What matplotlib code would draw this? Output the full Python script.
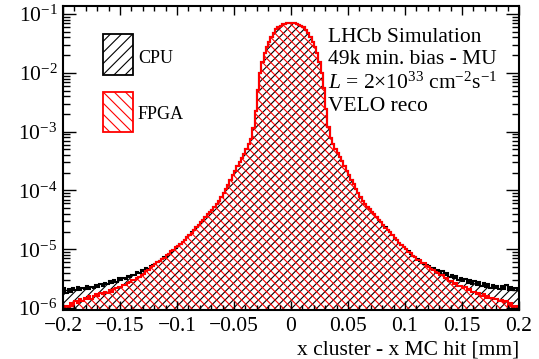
import numpy as np
import matplotlib
matplotlib.use("Agg")
import matplotlib.pyplot as plt
from matplotlib.patches import Rectangle
from matplotlib.ticker import MultipleLocator, LogLocator, NullFormatter

plt.rcParams['font.family'] = ['Liberation Serif', 'DejaVu Serif']
plt.rcParams['mathtext.fontset'] = 'custom'
plt.rcParams['mathtext.rm'] = 'Liberation Serif'
plt.rcParams['mathtext.it'] = 'Liberation Serif:italic'
plt.rcParams['mathtext.bf'] = 'Liberation Serif:bold'
plt.rcParams['hatch.linewidth'] = 0.8

# ---- data (values per bin, in units of 1e-6) ----
x_min, x_max, n_bins = -0.2, 0.2, 200

cpu_ppm = [
    2.2, 1.8, 2.1, 1.9, 2.2, 2.0, 2.3, 2.0, 2.2, 2.1,
    2.4, 2.1, 2.3, 2.2, 2.5, 2.3, 2.6, 2.4, 2.7, 2.6,
    2.9, 2.7, 3.0, 2.8, 3.2, 3.0, 3.3, 3.1, 3.5, 3.4,
    3.7, 3.6, 4.1, 3.9, 4.4, 4.3, 4.7, 4.6, 5.1, 5.3,
    5.7, 6.0, 6.4, 6.8, 7.3, 7.8, 8.4, 9.1, 9.8, 10.6,
    11.4, 12.3, 13.4, 14.5, 16.0, 17.4, 19.3, 21.3, 23.7, 26.2,
    28.7, 31.7, 35, 39, 43, 47, 52, 58, 66, 76,
    90, 105, 125, 150, 180, 215, 260, 310, 360, 420,
    500, 610, 760, 1150, 2200, 5200, 10000, 15500, 22000, 28000,
    34000, 41000, 48500, 55000, 60000, 63500, 66500, 68500, 69500, 70000,
    70000, 69300, 68000, 66000, 63000, 59500, 54500, 48000, 41000, 34000,
    27500, 21500, 15500, 10000, 5500, 2400, 1200, 780, 620, 510,
    430, 365, 312, 262, 218, 182, 152, 127, 107, 91,
    78, 67, 59, 53, 48, 43, 39, 35.5, 32, 29,
    26, 23.5, 21.5, 19.5, 17.5, 15.8, 14.3, 13.0, 11.8, 10.8,
    9.9, 9.2, 8.4, 7.8, 7.3, 6.7, 6.4, 5.9, 5.7, 5.3,
    5.1, 4.7, 4.8, 4.3, 4.5, 4.0, 4.2, 3.7, 3.9, 3.4,
    3.6, 3.2, 3.5, 3.0, 3.3, 2.9, 3.1, 2.7, 3.0, 2.6,
    2.9, 2.5, 2.8, 2.4, 2.7, 2.3, 2.6, 2.2, 2.5, 2.2,
    2.4, 2.1, 2.4, 2.1, 2.5, 2.0, 2.3, 2.0, 2.2, 2.1,
]

fpga_ppm = [
    0.7, 1.1, 0.85, 1.2, 1.1, 1.3, 1.2, 1.4, 1.3, 1.5,
    1.4, 1.6, 1.4, 1.6, 1.7, 1.6, 1.8, 1.7, 1.9, 1.8,
    2.0, 1.9, 2.1, 2.2, 2.3, 2.3, 2.5, 2.5, 2.7, 2.8,
    3.0, 3.0, 3.3, 3.4, 3.7, 3.8, 4.2, 4.4, 4.9, 5.2,
    5.6, 6.1, 6.3, 6.9, 7.2, 7.9, 8.3, 9.2, 9.7, 10.7,
    11.3, 12.4, 13.3, 14.6, 15.9, 17.5, 19.2, 21.4, 23.6, 26.3,
    28.6, 31.8, 35, 39, 43, 47, 52, 58, 66, 76,
    90, 105, 125, 150, 180, 215, 260, 310, 360, 420,
    500, 610, 760, 1150, 2200, 5200, 10000, 15500, 22000, 28000,
    34000, 41000, 48500, 55000, 60000, 63500, 66500, 68500, 69500, 70000,
    70000, 69300, 68000, 66000, 63000, 59500, 54500, 48000, 41000, 34000,
    27500, 21500, 15500, 10000, 5500, 2400, 1200, 780, 620, 510,
    430, 365, 312, 262, 218, 182, 152, 127, 107, 91,
    78, 67, 59, 53, 48, 43, 39, 35.5, 32, 29,
    26.1, 23.4, 21.6, 19.4, 17.6, 15.7, 14.4, 12.9, 11.9, 10.7,
    10.0, 9.1, 8.5, 7.7, 7.4, 6.6, 6.5, 5.8, 5.8, 5.2,
    5.0, 4.6, 4.5, 4.1, 4.0, 3.7, 3.6, 3.3, 3.2, 2.9,
    2.9, 2.6, 2.7, 2.4, 2.4, 2.2, 2.3, 2.0, 2.1, 1.9,
    1.9, 1.7, 1.8, 1.6, 1.7, 1.5, 1.6, 1.5, 1.5, 1.4,
    1.45, 1.3, 1.35, 1.25, 1.3, 1.1, 1.2, 1.0, 1.1, 0.9,
]

series_labels = ['CPU', 'FPGA']
series_colors = ['black', '#ff0000']
xtick_values = [-0.2, -0.15, -0.1, -0.05, 0.0, 0.05, 0.1, 0.15, 0.2]
xtick_labels = ['\u22120.2', '\u22120.15', '\u22120.1', '\u22120.05', '0',
                '0.05', '0.1', '0.15', '0.2']
ytick_values = [1e-6, 1e-5, 1e-4, 1e-3, 1e-2, 1e-1]
ytick_labels = ['$10^{-6}$', '$10^{-5}$', '$10^{-4}$', '$10^{-3}$',
                '$10^{-2}$', '$10^{-1}$']
info_lines = ['LHCb Simulation', '49k min. bias - MU',
              r'$L$ = 2$\times$10$^{33}$ cm$^{-2}$s$^{-1}$', 'VELO reco']
x_label = 'x cluster - x MC hit [mm]'

# ---- plot ----
W, H = 539, 359
AX_L, AX_R, AX_T, AX_B = 63, 519, 6, 310
aw, ah = AX_R - AX_L, AX_B - AX_T


def ax_x(px):
    return (px - AX_L) / aw


def ax_y(py):
    return (AX_B - py) / ah


edges = np.linspace(x_min, x_max, n_bins + 1)
cpu = np.array(cpu_ppm) * 1e-6
fpga = np.array(fpga_ppm) * 1e-6

fig = plt.figure(figsize=(W / 100, H / 100), dpi=100)
ax = fig.add_axes([AX_L / W, 1 - AX_B / H, aw / W, ah / H])
ax.set_yscale('log')

base = 1e-9
ax.stairs(cpu, edges, baseline=base, fill=True, facecolor='none',
          edgecolor=series_colors[0], hatch='////', linewidth=0)
ax.stairs(fpga, edges, baseline=base, fill=True, facecolor='none',
          edgecolor=series_colors[1], hatch='\\\\\\\\', linewidth=0)
ax.stairs(cpu, edges, baseline=None, color=series_colors[0], linewidth=1.5)
ax.stairs(fpga, edges, baseline=None, color=series_colors[1], linewidth=1.5)

ax.set_xlim(x_min, x_max)
ax.set_ylim(9.25e-7, 0.137)

ax.set_xticks(xtick_values)
ax.set_xticklabels(xtick_labels)
ax.xaxis.set_minor_locator(MultipleLocator(0.01))
ax.set_yticks(ytick_values)
ax.set_yticklabels(ytick_labels)
ax.yaxis.set_minor_locator(LogLocator(base=10, subs=np.arange(2, 10)))
ax.yaxis.set_minor_formatter(NullFormatter())

ax.tick_params(axis='both', which='both', direction='in', top=True, right=True,
               labelsize=15.5, width=1.0)
ax.tick_params(axis='x', which='major', length=6.5, pad=5)
ax.tick_params(axis='x', which='minor', length=3.5)
ax.tick_params(axis='y', which='major', length=9.5, pad=4)
ax.tick_params(axis='y', which='minor', length=5)
for s in ax.spines.values():
    s.set_linewidth(1.5)

# x-axis title, right-aligned at the axis end (baseline ~354 px)
ax.text(1.0, ax_y(354), x_label, transform=ax.transAxes, fontsize=15.5,
        ha='right', va='baseline')

# legend boxes (manual, ROOT style)
leg_boxes = [(103, 34, 133, 75), (103, 92, 133, 132)]
leg_text_base = [63, 119]
leg_hatches = ['///', '\\\\\\']
for (x0, y0, x1, y1), tb, lab, col, hh in zip(leg_boxes, leg_text_base,
                                            series_labels, series_colors,
                                            leg_hatches):
    r = Rectangle((ax_x(x0), ax_y(y1)), ax_x(x1) - ax_x(x0), ax_y(y0) - ax_y(y1),
                  transform=ax.transAxes, facecolor='white', edgecolor=col,
                  hatch=hh, linewidth=1.3, clip_on=False, zorder=5)
    ax.add_patch(r)
    ax.text(ax_x(138), ax_y(tb), lab, transform=ax.transAxes, fontsize=13,
            ha='left', va='baseline', zorder=6)

baselines_px = [42, 64, 89, 110.7]
for line, ypx in zip(info_lines, baselines_px):
    ax.text(ax_x(328), ax_y(ypx), line, transform=ax.transAxes,
            fontsize=15.5, ha='left', va='baseline')

fig.savefig('out.png', dpi=100)
